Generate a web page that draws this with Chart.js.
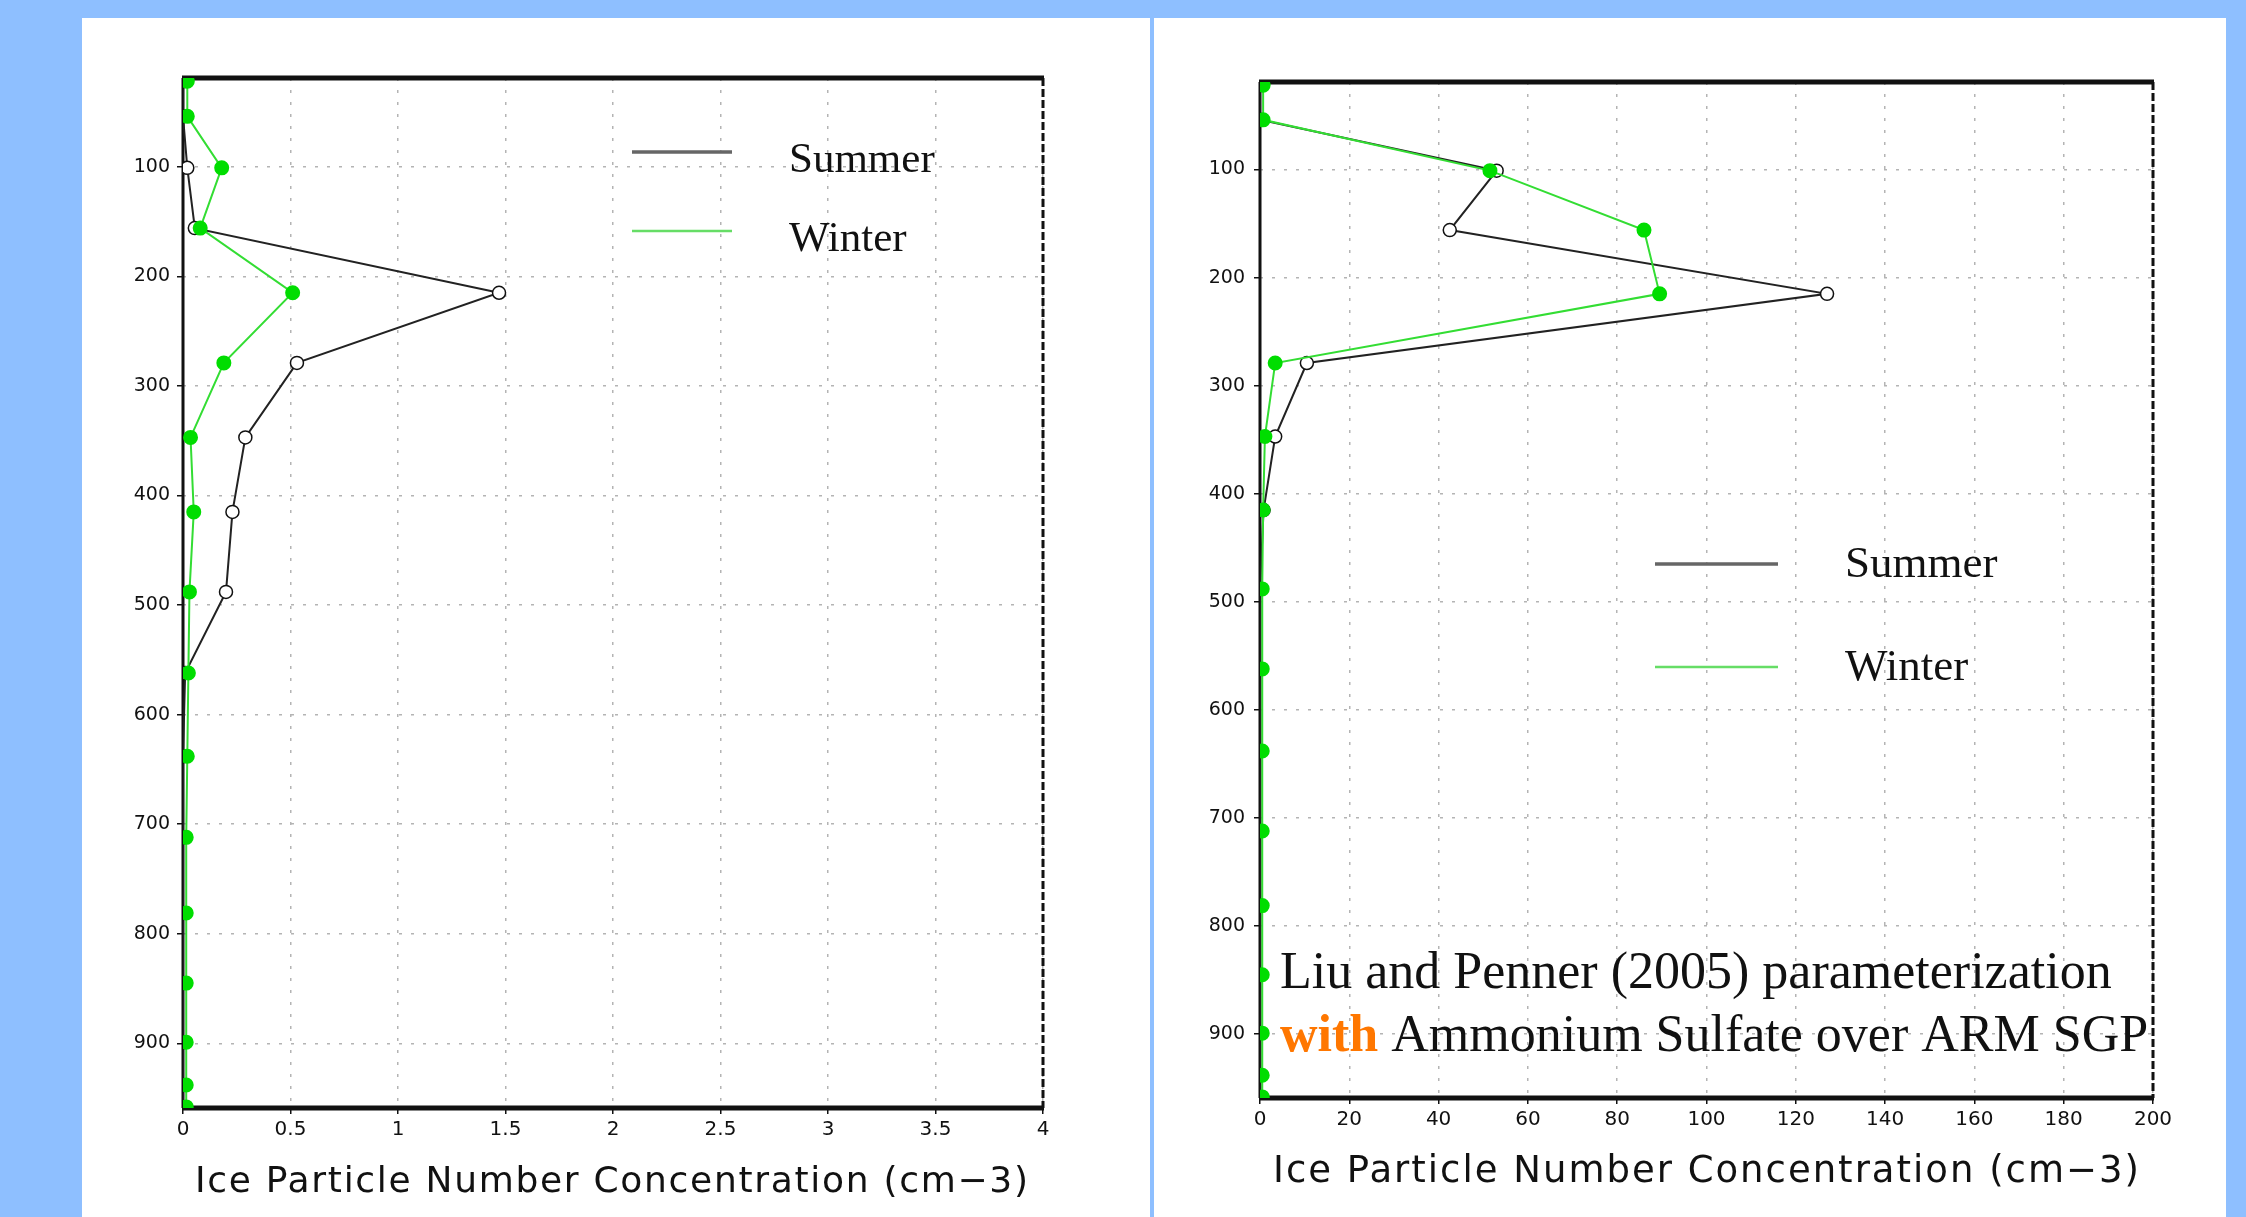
<!DOCTYPE html>
<html>
<head>
<meta charset="utf-8">
<script src="https://cdn.jsdelivr.net/npm/chart.js@4.4.1/dist/chart.umd.min.js"></script>
<style>
  html, body { margin: 0; padding: 0; }
  body { width: 2246px; height: 1217px; background: #8ebfff; position: relative; overflow: hidden; }
  .panel { position: absolute; top: 18px; height: 1199px; background: #fff; }
  #p1 { left: 82px; width: 1068px; }
  #p2 { left: 1154px; width: 1072px; }
  canvas { display: block; }
</style>
</head>
<body>
<div class="panel" id="p1"><canvas id="leftChart" width="1068" height="1199"></canvas></div>
<div class="panel" id="p2"><canvas id="rightChart" width="1072" height="1199"></canvas></div>
<script>
// pressure levels (hPa) of the model output
const levels = [22, 54, 101, 156, 215, 279, 347, 415, 488, 562, 638, 712, 781, 845, 899, 938, 958];

// left panel
const summerLeft = [0, 0, 0.02, 0.055, 1.47, 0.53, 0.29, 0.23, 0.2, 0.01, 0, 0, 0, 0, 0, 0, 0];
const winterLeft = [0.02, 0.02, 0.18, 0.08, 0.51, 0.19, 0.035, 0.05, 0.03, 0.025, 0.02, 0.015, 0.015, 0.015, 0.015, 0.015, 0.015];
const xTicksLeft = [0, 0.5, 1, 1.5, 2, 2.5, 3, 3.5, 4];

// right panel (Liu and Penner 2005)
const summerRight = [0, 0, 53, 42.5, 127, 10.5, 3.4, 0.8, 0, 0, 0, 0, 0, 0, 0, 0, 0];
const winterRight = [0.7, 0.7, 51.5, 86, 89.5, 3.4, 1.1, 0.7, 0.5, 0.5, 0.5, 0.5, 0.5, 0.5, 0.5, 0.5, 0.5];
const xTicksRight = [0, 20, 40, 60, 80, 100, 120, 140, 160, 180, 200];

const pTicks = [100, 200, 300, 400, 500, 600, 700, 800, 900];
const xTitle = 'Ice Particle Number Concentration (cm\u22123)';

const toPoints = vals => levels.map((p, i) => ({ x: vals[i], y: p }));

const decor = {
    id: 'decor',
    beforeDatasetsDraw(chart) {
        const { ctx, chartArea: a } = chart;
        ctx.save();
        ctx.strokeStyle = '#111';
        ctx.lineWidth = 5;
        ctx.beginPath();
        ctx.moveTo(a.left - 1, a.top); ctx.lineTo(a.right + 1, a.top);
        ctx.moveTo(a.left - 1, a.bottom); ctx.lineTo(a.right + 1, a.bottom);
        ctx.stroke();
        ctx.lineWidth = 3;
        ctx.beginPath();
        ctx.moveTo(a.left, a.top); ctx.lineTo(a.left, a.bottom);
        ctx.stroke();
        ctx.setLineDash([8, 3]);
        ctx.beginPath();
        ctx.moveTo(a.right, a.top); ctx.lineTo(a.right, a.bottom);
        ctx.stroke();
        ctx.restore();
    },
    afterDraw(chart, args, o) {
        const { ctx, chartArea: a } = chart;
        ctx.save();
        // legend
        const lg = o.legend;
        [['Summer', '#666', 3.5, lg.y1], ['Winter', '#66dd66', 2.5, lg.y2]].forEach(([name, col, w, y]) => {
            ctx.strokeStyle = col;
            ctx.lineWidth = w;
            ctx.beginPath();
            ctx.moveTo(a.left + lg.x0, a.top + y);
            ctx.lineTo(a.left + lg.x1, a.top + y);
            ctx.stroke();
            ctx.fillStyle = '#111';
            ctx.font = lg.size + 'px "Liberation Serif", "Times New Roman", serif';
            ctx.textBaseline = 'alphabetic';
            ctx.fillText(name, a.left + lg.tx, a.top + y + lg.dy);
        });
        // axis title
        ctx.fillStyle = '#111';
        ctx.font = o.title.size + 'px "DejaVu Sans", sans-serif';
        ctx.letterSpacing = o.title.spacing + 'px';
        ctx.fillText(xTitle, a.left + o.title.x, o.title.y);
        ctx.letterSpacing = '0px';
        // note
        if (o.note) {
            const n = o.note;
            ctx.font = n.size + 'px "Liberation Serif", "Times New Roman", serif';
            ctx.fillStyle = '#111';
            ctx.fillText('Liu and Penner (2005) parameterization', a.left + n.x, a.top + n.y1);
            ctx.font = 'bold ' + n.size + 'px "Liberation Serif", "Times New Roman", serif';
            ctx.fillStyle = '#ff7700';
            ctx.fillText('with', a.left + n.x, a.top + n.y2);
            const w = ctx.measureText('with ').width;
            ctx.font = n.size + 'px "Liberation Serif", "Times New Roman", serif';
            ctx.fillStyle = '#111';
            ctx.fillText('Ammonium Sulfate over ARM SGP', a.left + n.x + w, a.top + n.y2);
        }
        ctx.restore();
    }
};

function makeChart(id, summer, winter, xMax, xTicks, box, decorOpts) {
    const gridStyle = {
        color: '#b4b4b4',
        lineWidth: 1.5,
        drawTicks: true,
        tickLength: 6,
        tickColor: '#111',
        tickWidth: 1.5,
        tickBorderDash: []
    };
    const borderStyle = { display: false, dash: [3, 9] };
    return new Chart(document.getElementById(id), {
        type: 'scatter',
        data: {
            datasets: [
                {
                    label: 'Winter',
                    data: toPoints(winter),
                    showLine: true,
                    borderColor: '#33dd33',
                    borderWidth: 2,
                    pointRadius: 6.5,
                    pointBackgroundColor: '#00dd00',
                    pointBorderColor: '#00dd00',
                    order: 0
                },
                {
                    label: 'Summer',
                    data: toPoints(summer),
                    showLine: true,
                    borderColor: '#222',
                    borderWidth: 2,
                    pointRadius: 6.5,
                    pointBackgroundColor: '#fff',
                    pointBorderColor: '#111',
                    pointBorderWidth: 1.5,
                    order: 1
                }
            ]
        },
        options: {
            responsive: false,
            animation: false,
            layout: { padding: { left: 0, top: box.top, right: box.right, bottom: 0 } },
            scales: {
                x: {
                    type: 'linear',
                    position: 'bottom',
                    min: 0,
                    max: xMax,
                    afterBuildTicks: s => { s.ticks = xTicks.map(v => ({ value: v })); },
                    afterFit: s => { s.height = box.bottomH; },
                    ticks: {
                        autoSkip: false,
                        maxRotation: 0,
                        padding: 4,
                        color: '#111',
                        font: { family: 'DejaVu Sans', size: 20 },
                        callback: v => String(v)
                    },
                    grid: gridStyle,
                    border: borderStyle
                },
                y: {
                    type: 'linear',
                    reverse: true,
                    min: 19,
                    max: 959,
                    afterBuildTicks: s => { s.ticks = pTicks.map(v => ({ value: v })); },
                    afterFit: s => { s.width = box.left; },
                    ticks: {
                        padding: box.yPad,
                        color: '#111',
                        font: { family: 'DejaVu Sans', size: 19 },
                        callback: v => String(v)
                    },
                    grid: gridStyle,
                    border: borderStyle
                }
            },
            plugins: {
                legend: { display: false },
                tooltip: { enabled: false },
                decor: decorOpts
            }
        },
        plugins: [decor]
    });
}

makeChart('leftChart', summerLeft, winterLeft, 4, xTicksLeft,
    { left: 101, top: 60, right: 107, bottomH: 109, yPad: 7 },
    {
        legend: { x0: 449, x1: 549, tx: 606, y1: 74, y2: 153, dy: 20, size: 43 },
        title: { x: 12, y: 1174, size: 36, spacing: 1.7 }
    });

makeChart('rightChart', summerRight, winterRight, 200, xTicksRight,
    { left: 106, top: 64, right: 73, bottomH: 119, yPad: 9 },
    {
        legend: { x0: 395, x1: 518, tx: 585, y1: 482, y2: 585, dy: 13, size: 45 },
        title: { x: 13, y: 1164, size: 37, spacing: 2 },
        note: { x: 20, y1: 906, y2: 969, size: 52 }
    });
</script>
</body>
</html>
